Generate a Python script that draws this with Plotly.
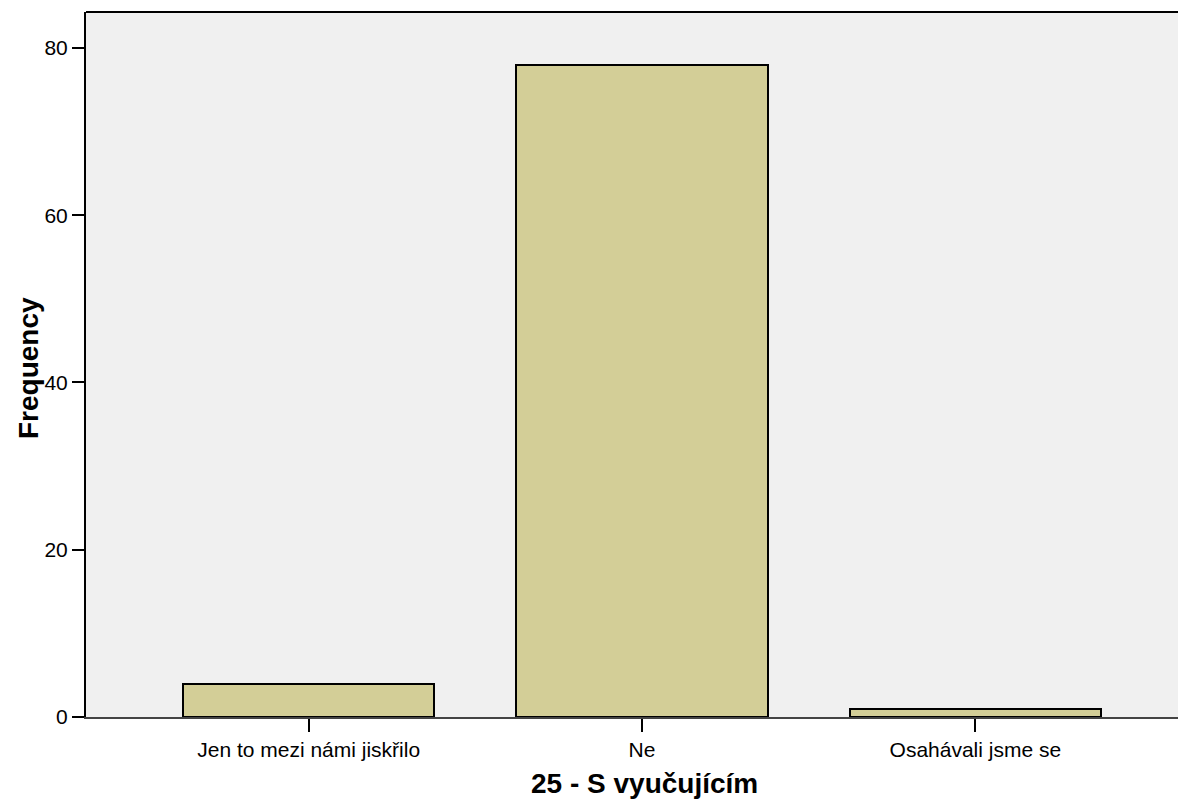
import plotly.graph_objects as go

categories = ["Jen to mezi námi jiskřilo", "Ne", "Osahávali jsme se"]
frequency = [4, 78, 1]
y_ticks = [0, 20, 40, 60, 80]

fig = go.Figure()
fig.add_trace(go.Bar(
    x=categories, y=frequency,
    width=0.754,
    marker=dict(color="#D3CE97", line=dict(color="#000000", width=2)),
))

font = "Liberation Sans, Arial, sans-serif"
fig.update_layout(
    width=1178, height=796,
    margin=dict(l=78, r=0, t=4, b=87),
    paper_bgcolor="white",
    plot_bgcolor="#F0F0F0",
    showlegend=False,
    font=dict(family=font, size=21, color="#000000"),
    bargap=0,
)
fig.update_xaxes(
    range=[-0.668, 2.632],
    showline=True, linecolor="#444444", linewidth=1.5,
    ticks="outside", ticklen=13, tickwidth=2, tickcolor="#000000",
    showgrid=False, zeroline=False,
    tickfont=dict(family=font, size=21),
)
fig.update_yaxes(
    range=[0, 84.3],
    tickvals=y_ticks,
    showline=True, linecolor="#000000", linewidth=2,
    ticks="outside", ticklen=12, tickwidth=2, tickcolor="#000000",
    showgrid=False, zeroline=False,
    tickfont=dict(family=font, size=21),
)
fig.add_shape(type="line", xref="paper", yref="paper", x0=0, x1=1, y0=1, y1=1,
              line=dict(color="#000000", width=2))
fig.add_annotation(text="<b>Frequency</b>", xref="paper", yref="paper", x=0, y=0.495,
                   xanchor="center", yanchor="middle", xshift=-58, textangle=-90,
                   showarrow=False, font=dict(family=font, size=28))
fig.add_annotation(text="<b>25 - S vyučujícím</b>", xref="x", yref="paper", x=1, y=0,
                   xanchor="center", yanchor="middle", xshift=2, yshift=-66,
                   showarrow=False, font=dict(family=font, size=28))
fig.write_html("out.html")
